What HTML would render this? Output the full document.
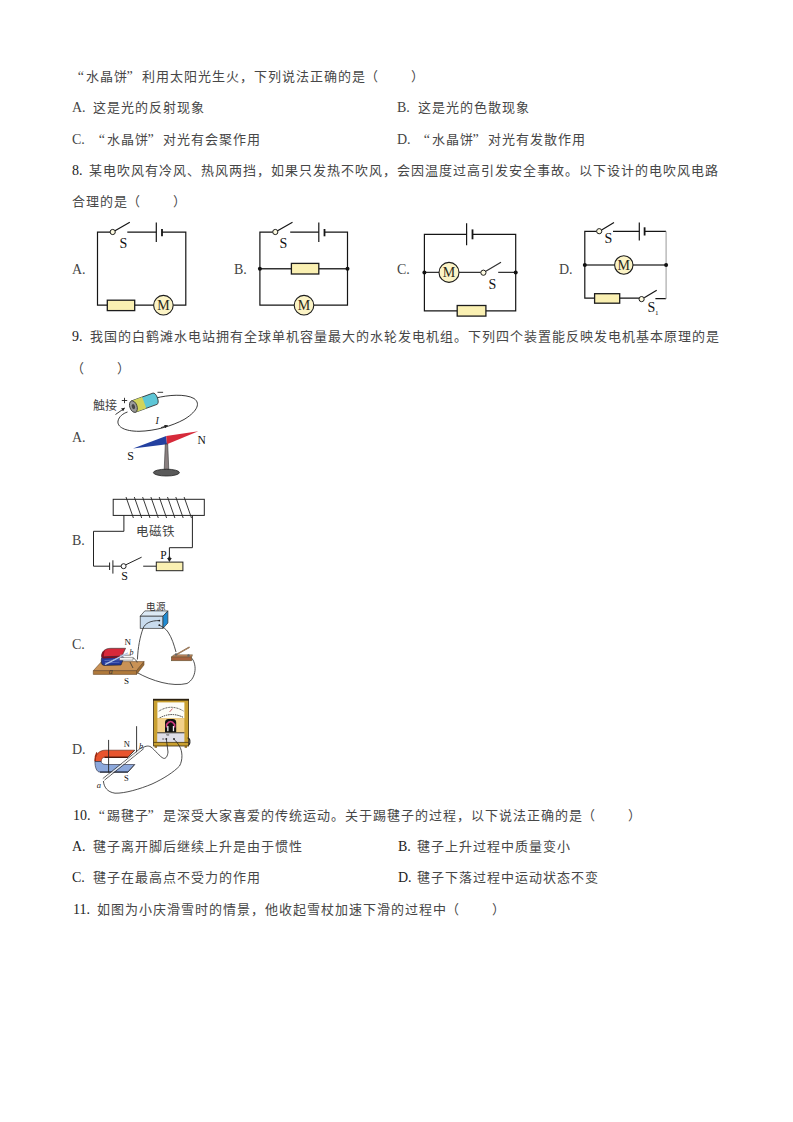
<!DOCTYPE html>
<html lang="zh-CN"><head><meta charset="utf-8"><style>
body{margin:0;background:#fff;width:793px;height:1122px;overflow:hidden;position:relative}
.l{position:absolute;white-space:pre;font-family:"Liberation Serif",serif;font-size:14px;line-height:20px;color:#222}
.c{color:#474747;font-size:13px;letter-spacing:1px;margin-top:0px}
.q1{display:inline-block;width:14px;box-sizing:border-box;padding-right:2px;text-align:right;letter-spacing:0;font-size:14px}
.q2{display:inline-block;width:14px;position:relative;left:-1.5px;text-align:left;letter-spacing:0;font-size:14px}
.lbl{color:#444}
.bl{display:inline-block;width:31px}
.lp{margin-left:-1.5px;margin-right:1.5px}
svg{position:absolute;left:0;top:0}
</style></head><body>
<div class="l c" style="left:72px;top:67px"><span class="q1">“</span>水晶饼<span class="q2">”</span>利用太阳光生火，下列说法正确的是<span class="lp">（</span><span class="bl"></span>）</div>
<div class="l a lbl" style="left:72px;top:98px">A.</div>
<div class="l c" style="left:93px;top:98px">这是光的反射现象</div>
<div class="l a lbl" style="left:397px;top:98px">B.</div>
<div class="l c" style="left:418px;top:98px">这是光的色散现象</div>
<div class="l a lbl" style="left:72px;top:130px">C.</div>
<div class="l c" style="left:93px;top:130px"><span class="q1">“</span>水晶饼<span class="q2">”</span>对光有会聚作用</div>
<div class="l a lbl" style="left:397px;top:130px">D.</div>
<div class="l c" style="left:418px;top:130px"><span class="q1">“</span>水晶饼<span class="q2">”</span>对光有发散作用</div>
<div class="l a" style="left:72px;top:161px">8.</div>
<div class="l c" style="left:89px;top:161px">某电吹风有冷风、热风两挡，如果只发热不吹风，会因温度过高引发安全事故。以下设计的电吹风电路</div>
<div class="l c" style="left:72px;top:192px">合理的是<span class="lp">（</span><span class="bl"></span>）</div>
<div class="l a lbl" style="left:72px;top:260px">A.</div>
<div class="l a lbl" style="left:234px;top:260px">B.</div>
<div class="l a lbl" style="left:397px;top:260px">C.</div>
<div class="l a lbl" style="left:559px;top:260px">D.</div>
<div class="l a" style="left:72px;top:327px">9.</div>
<div class="l c" style="left:90px;top:327px">我国的白鹤滩水电站拥有全球单机容量最大的水轮发电机组。下列四个装置能反映发电机基本原理的是</div>
<div class="l c" style="left:72px;top:358.5px"><span class="lp">（</span><span class="bl"></span>）</div>
<div class="l a lbl" style="left:72px;top:428px">A.</div>
<div class="l a lbl" style="left:72px;top:531px">B.</div>
<div class="l a lbl" style="left:72px;top:635px">C.</div>
<div class="l a lbl" style="left:72px;top:740px">D.</div>
<div class="l a" style="left:73px;top:806px">10.</div>
<div class="l c" style="left:93px;top:806px"><span class="q1">“</span>踢毽子<span class="q2">”</span>是深受大家喜爱的传统运动。关于踢毽子的过程，以下说法正确的是<span class="lp">（</span><span class="bl"></span>）</div>
<div class="l a" style="left:72px;top:837px">A.</div>
<div class="l c" style="left:93px;top:837px">毽子离开脚后继续上升是由于惯性</div>
<div class="l a" style="left:398px;top:837px">B.</div>
<div class="l c" style="left:417px;top:837px">毽子上升过程中质量变小</div>
<div class="l a" style="left:72px;top:868px">C.</div>
<div class="l c" style="left:93px;top:868px">毽子在最高点不受力的作用</div>
<div class="l a" style="left:398px;top:868px">D.</div>
<div class="l c" style="left:417px;top:868px">毽子下落过程中运动状态不变</div>
<div class="l a" style="left:73px;top:899.5px">11.</div>
<div class="l c" style="left:97px;top:899.5px">如图为小庆滑雪时的情景，他收起雪杖加速下滑的过程中<span class="lp">（</span><span class="bl"></span>）</div>
<svg width="793" height="1122" viewBox="0 0 793 1122">
<defs>
<style>
.w{stroke:#151515;stroke-width:1.2;fill:none}
.res{fill:#faf0b2;stroke:#1c1c1c;stroke-width:1.3}
.mot{fill:#fcf4c6;stroke:#1c1c1c;stroke-width:1.1}
.sw{fill:#fdfae0;stroke:#1c1c1c;stroke-width:1}
.lb{font-family:"Liberation Serif",serif;font-size:14px;fill:#111}
.mt{font-family:"Liberation Serif",serif;font-size:14px;fill:#2a2a1a}
.dot{fill:#111}
</style>
</defs>
<!-- Circuit A -->
<path class="w" d="M110.1,232.2 H97.5 V305.2 H107.3 M134.7,305.2 H153.6 M173.2,305.2 H185.8 V232.2 H162 M156.3,232.2 H127.3 M115,230.8 L129.8,222.2"/>
<path class="w" d="M156.3,222.4 V242"/>
<path class="w" style="stroke-width:1.8" d="M162,229 V236.3"/>
<circle class="sw" cx="112.7" cy="232" r="2.6"/>
<rect class="res" x="107.3" y="300.2" width="27.4" height="10.4"/>
<circle class="mot" cx="163.4" cy="305.2" r="9.8"/>
<text class="mt" x="163.4" y="310" text-anchor="middle">M</text>
<text class="lb" x="119.5" y="247.5">S</text>
<!-- Circuit B -->
<path class="w" d="M272.7,232.2 H259.9 V305.2 H294.2 M313.8,305.2 H347.5 V232.2 H324.5 M318.8,232.2 H290.2 M277.6,230.8 L292.5,222.2"/><path class="w" style="stroke:#333;stroke-width:1.4" d="M259.9,268.8 H291.4 M318.8,268.8 H347.5"/>
<path class="w" d="M318.8,222.4 V242"/>
<path class="w" style="stroke-width:1.8" d="M324.5,229 V236.3"/>
<circle class="sw" cx="275.3" cy="232" r="2.6"/>
<rect class="res" x="291.4" y="263.4" width="27.4" height="10.6"/>
<circle class="mot" cx="304" cy="305.2" r="9.8"/>
<text class="mt" x="304" y="310" text-anchor="middle">M</text>
<circle class="dot" cx="259.9" cy="268.8" r="2"/>
<circle class="dot" cx="347.5" cy="268.8" r="2"/>
<text class="lb" x="279.5" y="247.5">S</text>
<!-- Circuit C -->
<path class="w" d="M466.6,234.3 H424.4 V310.9 H457.2 M485.9,310.9 H515.7 V234.3 H472.5"/><path class="w" style="stroke:#333;stroke-width:1.3" d="M424.4,272.4 H439 M459,272.4 H480.8 M498.2,272.4 H515.7 M485.8,271.2 L501,262.2"/>
<path class="w" d="M466.6,223.2 V245.3"/>
<path class="w" style="stroke-width:1.8" d="M472.5,229.4 V239.3"/>
<circle class="sw" cx="483.4" cy="272.7" r="2.6"/>
<rect class="res" x="457.2" y="305.5" width="28.7" height="10.6"/>
<circle class="mot" cx="449" cy="272.4" r="10"/>
<text class="mt" x="449" y="277.3" text-anchor="middle">M</text>
<circle class="dot" cx="424.4" cy="272.4" r="2"/>
<circle class="dot" cx="515.7" cy="272.4" r="2"/>
<text class="lb" x="488.5" y="288.5">S</text>
<!-- Circuit D -->
<path class="w" d="M596.6,231.4 H584.8 V298.1 H594.6 M619.7,298.1 H639.2 M601.6,230 L614,222.4 M613,231.4 H639.3"/>
<path class="w" d="M644.6,231.4 H666.1 M666.1,298.7 H655.4"/><path class="w" style="stroke:#aaa" d="M666.1,231.4 V298.7"/>
<path class="w" d="M644.2,297.8 L656.7,290.2"/><path class="w" style="stroke:#444;stroke-width:1.4" d="M584.8,265 H614.6 M633,265 H666.1"/>
<path class="w" d="M639.3,222.4 V240.4"/>
<path class="w" style="stroke-width:1.8" d="M644.6,227.3 V235.5"/>
<circle class="sw" cx="599.2" cy="231.2" r="2.6"/>
<circle class="sw" cx="641.6" cy="299.1" r="2.6"/>
<rect class="res" x="594.6" y="293.7" width="25.1" height="9.5"/>
<circle class="mot" cx="623.8" cy="265" r="9.2"/>
<text class="mt" x="623.8" y="269.8" text-anchor="middle">M</text>
<circle class="dot" cx="584.8" cy="265" r="2"/>
<circle class="dot" cx="666.1" cy="265" r="2"/>
<text class="lb" x="604.5" y="243">S</text>
<text class="lb" x="647.5" y="311.8">S</text>
<text class="lb" x="655" y="314.5" style="font-size:7px">1</text>
</svg>

<svg width="793" height="1122" viewBox="0 0 793 1122">
<defs>
<marker id="ah" viewBox="0 0 6 6" refX="5" refY="3" markerWidth="4" markerHeight="4" orient="auto"><path d="M0,0 L6,3 L0,6 z" fill="#222"/></marker>
</defs>
<!-- ===== Image A (Oersted) ===== -->
<text x="93.3" y="409.6" style="font-family:'Liberation Serif',serif;font-size:12px;fill:#444">触接</text>
<path d="M121.8,400.5 h5.4 M124.5,397.8 v5.4" stroke="#222" stroke-width="0.9" fill="none"/>
<path d="M115.5,414.5 L124.5,408.2" stroke="#222" stroke-width="0.9" fill="none" marker-end="url(#ah)"/>
<path d="M157.5,392.3 h5.6" stroke="#222" stroke-width="0.9"/>
<!-- loop wire -->
<path d="M156,398 C168,395 185,393.5 194,398.5 C202,404 195,413 184,419.5 C172,426 155,431 139,431.3 C125,431.3 117,427 118,421 C119,416.5 123,413.5 127.5,412" stroke="#222" stroke-width="0.9" fill="none"/>
<path d="M161,427.6 L167.5,425.6" stroke="#222" stroke-width="0.9" fill="none" marker-end="url(#ah)"/>
<text x="155.5" y="423.5" style="font-family:'Liberation Serif',serif;font-style:italic;font-size:10px;fill:#222">I</text>
<!-- battery -->
<g transform="translate(133.4,406.6) rotate(-20)">
 <path d="M0,-6 H23 A2.6,6 0 0 1 23,6 H0 Z" fill="#5ec6d6" stroke="#333" stroke-width="0.8"/>
 <path d="M0,-6 H11.5 V6 H0 Z" fill="#d2d45a" stroke="none"/>
 <ellipse cx="0" cy="0" rx="3.6" ry="6" fill="#9a9a9a" stroke="#333" stroke-width="0.8"/>
 <ellipse cx="0" cy="0" rx="1.6" ry="2.6" fill="#444"/>
</g>
<!-- compass needle -->
<path d="M133,448.6 L166.2,436 L167,444.3 Z" fill="#2340a0"/>
<path d="M166.2,436 L198.3,431.2 L167,444.3 Z" fill="#d62a3a"/>
<!-- stand -->
<path d="M165.3,444 L167.7,444 L168.8,470 L164.2,470 Z" fill="#8a8080" stroke="#333" stroke-width="0.6"/>
<ellipse cx="166.4" cy="472.6" rx="13" ry="3.4" fill="#5a5a5a" stroke="#222" stroke-width="0.8"/>
<text x="127.3" y="460" style="font-family:'Liberation Serif',serif;font-size:12px;fill:#111">S</text>
<text x="197.5" y="443.5" style="font-family:'Liberation Serif',serif;font-size:11.5px;fill:#111">N</text>

<!-- ===== Image B (electromagnet) ===== -->
<rect x="113.2" y="499.3" width="91.1" height="16.1" fill="none" stroke="#222" stroke-width="1"/>
<path stroke="#222" stroke-width="0.9" fill="none" d="M126,497 l7.4,21 M134.3,497 l7.4,21 M142.6,497 l7.4,21 M150.9,497 l7.4,21 M159.2,497 l7.4,21 M167.5,497 l7.4,21 M175.8,497 l7.4,21 M184.1,497 l7.4,21"/>
<path stroke="#222" stroke-width="1" fill="none" d="M123.9,515.4 V531.3 H93.5 V566.2 H109.6 M112.9,566.2 H121 M143.2,566.2 H156.3 M192.4,515.4 V547.7 H169.4 V559"/>
<path stroke="#222" stroke-width="1" fill="none" d="M109.6,562.5 V570 M112.9,560.3 V573.6"/>
<circle cx="123.6" cy="566.2" r="2.5" fill="#fff" stroke="#222" stroke-width="1"/>
<path d="M125.8,564.8 L141.6,557.2" stroke="#222" stroke-width="1"/>
<rect x="156.3" y="562.1" width="26.6" height="8.6" fill="#faf0b2" stroke="#222" stroke-width="1"/>
<path d="M167,558 L169.4,562 L171.8,558 Z" fill="#222"/>
<circle cx="169.4" cy="557.5" r="1.1" fill="#222"/>
<text x="160.2" y="559" style="font-family:'Liberation Serif',serif;font-size:11.5px;fill:#111">P</text>
<text x="121.3" y="580" style="font-family:'Liberation Serif',serif;font-size:12px;fill:#111">S</text>
<text x="136.3" y="535.8" style="font-family:'Liberation Serif',serif;font-size:12.5px;fill:#444">电磁铁</text>

<!-- ===== Image C (motor principle) ===== -->
<text x="146" y="609.6" style="font-family:'Liberation Serif',serif;font-size:9.5px;fill:#333">电源</text>
<path d="M140.2,616.2 L144.8,610.9 L167.9,610.9 L163,616.2 Z" fill="#dce9f4" stroke="#333" stroke-width="0.7"/>
<rect x="140.2" y="616.2" width="22.8" height="12.1" fill="#c9dcee" stroke="#333" stroke-width="0.7"/>
<path d="M163,616.2 L167.9,610.9 L167.9,623 L163,628.3 Z" fill="#1f8ad2" stroke="#333" stroke-width="0.7"/>
<circle cx="159.3" cy="620.6" r="0.9" fill="#222"/><circle cx="159.3" cy="625.2" r="0.9" fill="#222"/>
<path d="M159.3,620.6 C151,620.5 145,623 143,628.5 C140,637 138,647 137.4,659.5" stroke="#222" stroke-width="0.8" fill="none"/>
<path d="M159.3,625.2 C163,627 166,629 168,632 C172,638 174,645 176,652" stroke="#222" stroke-width="0.8" fill="none"/>
<path d="M191,657.5 C197,663 197,678 187,683.5 C172,687 152,681 137,672.5" stroke="#222" stroke-width="0.8" fill="none"/>
<!-- switch -->
<path d="M171.3,657 L174,654.8 L192.5,654.8 L191.7,657 Z" fill="#c88660" stroke="#553" stroke-width="0.5"/>
<rect x="171.3" y="657" width="20.4" height="3.8" fill="#a8623e" stroke="#553" stroke-width="0.5"/>
<path d="M176.5,654.5 L189.5,647.2" stroke="#6a4a30" stroke-width="1.4"/>
<path d="M176.5,654.5 L189.5,647.2" stroke="#d9b48a" stroke-width="0.6"/>
<circle cx="176" cy="654.5" r="1.2" fill="#666"/><circle cx="188.5" cy="655.5" r="1.2" fill="#666"/>
<!-- wood base -->
<path d="M93.3,670.7 L101.6,661.6 L144,661.6 L136.5,670.7 Z" fill="#c99256" stroke="#6a4a2a" stroke-width="0.6"/>
<path d="M93.3,670.7 H136.5 V674.4 H93.3 Z" fill="#b07a3c" stroke="#6a4a2a" stroke-width="0.6"/>
<path d="M136.5,670.7 L144,661.6 V665 L136.5,674.4 Z" fill="#9a6a32" stroke="#6a4a2a" stroke-width="0.6"/>
<!-- magnet -->
<path d="M102,664.5 C100.8,662 101,658 102.5,656 L121.5,656 L124,657.5 L121,665 L104,665.5 Z" fill="#23389a" stroke="#222" stroke-width="0.6"/>
<path d="M101.5,656.5 C101.5,651.5 105,648.3 111,648.3 L125.6,648.3 L122,656 L102,657 Z" fill="#d8283a" stroke="#333" stroke-width="0.6"/>
<path d="M101.5,656.5 C101.5,653 103,651 105.5,650 C104,652 103.5,654.5 104,657.5 Z" fill="#8a1020"/>
<path d="M102.2,657 L121.8,656 L121.2,657.8 L102.6,658.6 Z" fill="#7a1020"/>
<path d="M104.5,660.5 L120,659.8 M104.8,662.8 L119.5,662.2" stroke="#6a80c8" stroke-width="0.7"/>
<path d="M119.5,657.4 L133,657.4 L133,660.2 L119.5,660.2 Z" fill="#f4f4f4" stroke="#555" stroke-width="0.5"/>
<path d="M120,655.2 L131,655.2" stroke="#999" stroke-width="1.2"/>
<path d="M105,664.5 L128,652.8" stroke="#c8d8f0" stroke-width="1.3"/>
<path d="M105,664.5 L128,652.8" stroke="#5a7ab8" stroke-width="0.4" stroke-dasharray="1,1"/>
<path d="M133,657.8 C135,659 136.5,660.5 137.2,662.5 M130,662 L133,668" stroke="#333" stroke-width="0.8" fill="none"/>
<text x="124.4" y="645" style="font-family:'Liberation Serif',serif;font-size:9px;fill:#111">N</text>
<text x="129.4" y="654.5" style="font-family:'Liberation Serif',serif;font-style:italic;font-size:8px;fill:#222">b</text>
<text x="108.8" y="674" style="font-family:'Liberation Serif',serif;font-style:italic;font-size:8px;fill:#333">a</text>
<text x="124" y="683.7" style="font-family:'Liberation Serif',serif;font-size:9px;fill:#111">S</text>

<!-- ===== Image D (induction) ===== -->
<!-- galvanometer -->
<rect x="153.6" y="699.6" width="35" height="46.4" fill="#c9a030" stroke="#3a2a10" stroke-width="0.8"/>
<rect x="153" y="698.8" width="36" height="1.8" fill="#2a2010"/>
<rect x="157.4" y="702.4" width="27" height="15.8" fill="#fdfdf8"/>
<path d="M158.8,711.2 Q171,703.5 183.4,711" stroke="#333" stroke-width="1" fill="none" stroke-dasharray="0.9,0.7"/>
<path d="M159.5,718 Q171,711.5 183,717.2" stroke="#222" stroke-width="0.9" fill="none" stroke-dasharray="1.5,0.8"/>
<path d="M169.5,712 L172.5,708.6" stroke="#c04050" stroke-width="0.8"/>
<rect x="157.4" y="718.2" width="27" height="14.4" fill="#f2d08a"/>
<path d="M165,732.6 V722.5 Q165,719 168.5,719 H172.8 Q176.2,719 176.2,722.5 V732.6 Z" fill="#111"/>
<path d="M166.6,727.5 V724.5 Q170.6,718.6 174.6,724.5 V727.5" stroke="#d03a80" stroke-width="1.6" fill="none"/>
<rect x="167.2" y="726" width="1.3" height="5.2" fill="#eee"/><rect x="172.8" y="726" width="1.3" height="5.2" fill="#eee"/>
<rect x="157.2" y="732.6" width="27.2" height="9.6" fill="#dedee8"/>
<path d="M157.2,732.8 H184.4" stroke="#111" stroke-width="0.8"/>
<path d="M166,734.8 h3.2 M168,734.8 v1" stroke="#333" stroke-width="0.6"/>
<circle cx="166.3" cy="739" r="0.9" fill="#222"/><circle cx="174" cy="739" r="0.9" fill="#222"/>
<path d="M162.2,739 h2" stroke="#222" stroke-width="0.7"/>
<path d="M153.6,742.4 H188.6" stroke="#3a2a10" stroke-width="0.7"/>
<path d="M187.6,738 C190,738 190.6,742 189,745" stroke="#222" stroke-width="1.2" fill="none"/>
<rect x="154.6" y="746" width="2.4" height="1.8" fill="#8a6a20"/><rect x="184.6" y="746" width="2.4" height="1.8" fill="#8a6a20"/>
<!-- wires -->
<path d="M142,748.5 C144,746.5 148,745 151,747 C155,750 160,757 163.5,758.3 C166,759 167.6,756 168,752 L166.4,739.5" stroke="#222" stroke-width="0.8" fill="none"/>
<path d="M103.4,781 C104,787 107,792 115,793.2 C125,793.5 140,789 152,784 C163,779 174,772 179.5,766 C183,760 182.5,751 179.5,746.3 C178,743.5 176,741 174.2,739.5" stroke="#222" stroke-width="0.8" fill="none"/>
<!-- magnet horseshoe -->
<path d="M105.2,750.2 H134.7 L127.9,757.3 H104.5 C102.4,757.3 101.3,759 101.2,761.5 L94.9,761.5 C94.9,755 99,750.2 105.2,750.2 Z" fill="#e8542e" stroke="#5a2010" stroke-width="0.6"/>
<path d="M94.9,761.5 H101.2 C101.3,763 102.6,764.5 106,764.5 H134.7 L127.9,772.1 H100 C96.5,772.1 94.9,767 94.9,761.5 Z" fill="#8ca8dc" stroke="#223" stroke-width="0.6"/>
<path d="M104.5,757.3 H127.9" stroke="#4a1408" stroke-width="1.3"/>
<path d="M100,772.1 H127.9" stroke="#1a2030" stroke-width="1.1"/>
<path d="M127.9,757.3 L134.7,750.2 M127.9,772.1 L134.7,764.5" stroke="#333" stroke-width="0.8"/>
<path d="M97,752.5 C95.5,755 95,758 95.2,761" stroke="#a02a10" stroke-width="1.5" fill="none"/>
<!-- verticals -->
<path d="M108.6,739.9 V772.5 M136.6,726.2 V753.6" stroke="#222" stroke-width="0.9"/>
<!-- rod -->
<path d="M102.8,778.6 L142.2,747 M104.4,780.2 L143.8,748.6" stroke="#333" stroke-width="0.8"/>
<path d="M103.6,779.4 L143,747.8" stroke="#f4f4f4" stroke-width="1.1"/>
<text x="123.7" y="747.4" style="font-family:'Liberation Serif',serif;font-size:8.5px;fill:#111">N</text>
<text x="123.9" y="780.8" style="font-family:'Liberation Serif',serif;font-size:8.5px;fill:#111">S</text>
<text x="96.8" y="787.6" style="font-family:'Liberation Serif',serif;font-style:italic;font-size:8.5px;fill:#222">a</text>
<text x="139" y="749" style="font-family:'Liberation Serif',serif;font-style:italic;font-size:8.5px;fill:#222">b</text>
</svg>

</body></html>
